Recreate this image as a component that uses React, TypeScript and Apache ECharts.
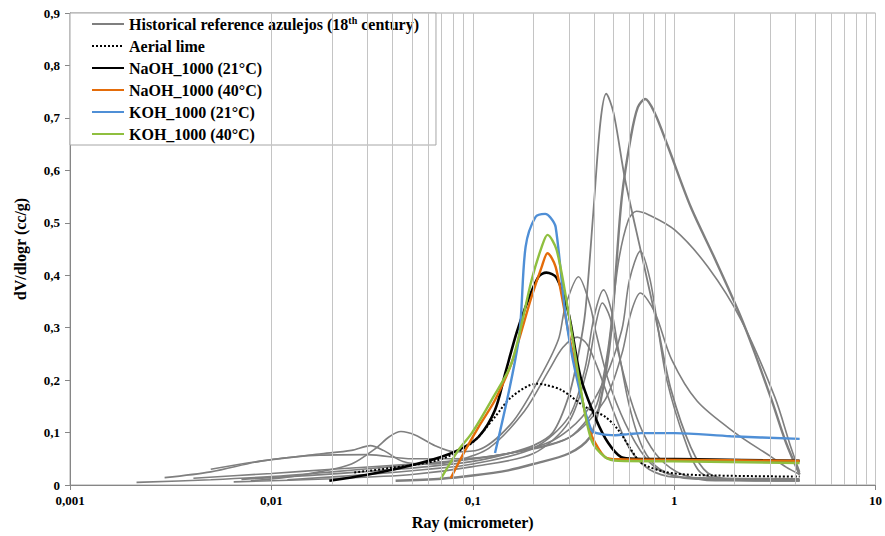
import React, { useEffect, useRef } from "react";
import * as echarts from "echarts";

const FONT = "'Liberation Serif', 'Times New Roman', serif";
const GRAY_NAME = "Historical reference azulejos (18th century)";
const LIME_NAME = "Aerial lime";
const NAOH21 = "NaOH_1000 (21°C)";
const NAOH40 = "NaOH_1000 (40°C)";
const KOH21 = "KOH_1000 (21°C)";
const KOH40 = "KOH_1000 (40°C)";

const xTickLabels = ["0,001", "0,01", "0,1", "1", "10"];
const yTickLabels = ["0", "0,1", "0,2", "0,3", "0,4", "0,5", "0,6", "0,7", "0,8", "0,9"];

// Historical reference azulejos (grey curves) [ray, dV/dlogr]
const gray1 = [[0.0071,0.011],[0.015,0.018],[0.03,0.026],[0.06,0.035],[0.1,0.045],[0.15,0.06],[0.2,0.075],[0.25,0.1],[0.3,0.17],[0.335,0.25],[0.362,0.33],[0.397,0.52],[0.43,0.69],[0.46,0.746],[0.5,0.71],[0.571,0.582],[0.687,0.442],[0.834,0.296],[0.966,0.181],[1.21,0.072],[1.47,0.023],[2,0.01],[4.2,0.008]];
const gray2 = [[0.0414,0.008],[0.07,0.012],[0.1,0.018],[0.15,0.028],[0.2,0.04],[0.3,0.06],[0.38,0.09],[0.42,0.14],[0.46,0.22],[0.488,0.296],[0.51,0.391],[0.55,0.549],[0.61,0.664],[0.66,0.72],[0.718,0.736],[0.8,0.71],[0.933,0.645],[1.21,0.53],[1.6,0.43],[2.2,0.31],[3.0,0.17],[3.6,0.08],[4.2,0.02]];
const gray3 = [[0.0041,0.013],[0.01,0.022],[0.02,0.03],[0.05,0.04],[0.1,0.05],[0.2,0.07],[0.3,0.09],[0.38,0.13],[0.42,0.162],[0.471,0.263],[0.528,0.423],[0.592,0.505],[0.649,0.522],[0.75,0.515],[1.01,0.486],[1.47,0.416],[2.15,0.315],[3.16,0.168],[3.8,0.072],[4.2,0.025]];
const gray4 = [[0.00214,0.005],[0.005,0.01],[0.01,0.016],[0.02,0.025],[0.04,0.035],[0.08,0.045],[0.15,0.06],[0.25,0.085],[0.35,0.13],[0.45,0.2],[0.55,0.296],[0.6,0.391],[0.68,0.446],[0.76,0.391],[0.834,0.296],[0.92,0.2],[1.13,0.086],[1.36,0.023],[2,0.01],[4.2,0.01]];
const gray5 = [[0.005,0.03],[0.009,0.046],[0.0173,0.057],[0.03,0.058],[0.05,0.05],[0.08,0.05],[0.15,0.06],[0.3,0.09],[0.45,0.16],[0.55,0.25],[0.61,0.328],[0.68,0.366],[0.8,0.33],[0.97,0.24],[1.3,0.16],[2,0.1],[3,0.055],[3.6,0.034],[4.2,0.02]];
const gray6 = [[0.0079,0.008],[0.012,0.015],[0.0173,0.025],[0.025,0.04],[0.033,0.07],[0.0385,0.092],[0.044,0.102],[0.052,0.095],[0.065,0.075],[0.082,0.063],[0.107,0.067],[0.156,0.118],[0.212,0.2],[0.266,0.277],[0.288,0.34],[0.335,0.397],[0.384,0.34],[0.406,0.296],[0.471,0.2],[0.571,0.118],[0.718,0.053],[0.9,0.023],[1.5,0.01],[4.2,0.008]];
const gray7 = [[0.012,0.01],[0.03,0.02],[0.06,0.03],[0.1,0.04],[0.2,0.07],[0.3,0.13],[0.36,0.22],[0.4,0.32],[0.446,0.372],[0.49,0.33],[0.528,0.26],[0.6,0.15],[0.7,0.07],[0.85,0.03],[1.2,0.012],[4.2,0.01]];
const gray8 = [[0.0065,0.006],[0.02,0.012],[0.05,0.02],[0.1,0.035],[0.2,0.06],[0.3,0.12],[0.37,0.22],[0.41,0.31],[0.44,0.347],[0.48,0.32],[0.53,0.25],[0.6,0.17],[0.7,0.1],[0.85,0.05],[1.1,0.02],[1.6,0.008],[4.2,0.008]];
const gray9 = [[0.00295,0.014],[0.005,0.025],[0.009,0.046],[0.0173,0.059],[0.025,0.066],[0.031,0.075],[0.036,0.066],[0.045,0.045],[0.06,0.04],[0.08,0.045],[0.12,0.07],[0.18,0.14],[0.24,0.22],[0.28,0.262],[0.33,0.282],[0.37,0.268],[0.42,0.22],[0.5,0.14],[0.6,0.07],[0.75,0.03],[1,0.015],[4.2,0.012]];
const grayCurves = [gray1, gray2, gray3, gray4, gray5, gray6, gray7, gray8, gray9];
const grayWidths = [1.8, 2.4, 1.6, 1.6, 1.6, 1.6, 1.6, 1.6, 1.6];

const aerialLime = [[0.0258,0.024],[0.0384,0.032],[0.0679,0.048],[0.0989,0.08],[0.129,0.13],[0.156,0.168],[0.207,0.193],[0.229,0.191],[0.276,0.181],[0.362,0.149],[0.455,0.13],[0.528,0.105],[0.612,0.067],[0.687,0.042],[0.9,0.025],[1.31,0.019],[4.2,0.016]];
const naoh21 = [[0.0194,0.008],[0.0294,0.019],[0.043,0.032],[0.0627,0.048],[0.0853,0.067],[0.107,0.092],[0.129,0.143],[0.145,0.213],[0.165,0.29],[0.183,0.34],[0.212,0.397],[0.232,0.405],[0.261,0.395],[0.299,0.328],[0.343,0.206],[0.411,0.124],[0.471,0.08],[0.547,0.053],[0.641,0.05],[1.31,0.049],[4.2,0.046]];
const naoh40 = [[0.0777,0.013],[0.092,0.067],[0.107,0.111],[0.129,0.162],[0.156,0.233],[0.196,0.359],[0.22,0.416],[0.235,0.442],[0.258,0.416],[0.299,0.29],[0.335,0.2],[0.375,0.111],[0.406,0.08],[0.455,0.053],[0.528,0.049],[1,0.048],[4.2,0.046]];
const koh21 = [[0.129,0.061],[0.169,0.277],[0.183,0.454],[0.205,0.511],[0.229,0.517],[0.243,0.51],[0.258,0.492],[0.288,0.328],[0.324,0.214],[0.388,0.105],[0.436,0.097],[0.511,0.095],[0.592,0.097],[0.687,0.099],[1.01,0.099],[1.91,0.093],[4.2,0.088]];
const koh40 = [[0.0692,0.011],[0.085,0.067],[0.0989,0.099],[0.124,0.162],[0.156,0.233],[0.196,0.391],[0.22,0.454],[0.235,0.477],[0.261,0.448],[0.299,0.328],[0.338,0.2],[0.388,0.086],[0.455,0.053],[0.528,0.046],[1,0.045],[4.2,0.042]];

const minorGrid: number[] = [];
[0.001, 0.01, 0.1, 1].forEach((d) => {
  for (let k = 2; k <= 9; k++) minorGrid.push(Number((k * d).toPrecision(3)));
});

const fmtX = (v: number) => {
  const idx = Math.round(Math.log10(v)) + 3;
  return xTickLabels[idx] ?? String(v);
};
const fmtY = (v: number) => yTickLabels[Math.round(v * 10)] ?? String(v);

export default function App() {
  const ref = useRef<HTMLDivElement>(null);
  useEffect(() => {
    document.body.style.margin = "0";
    if (!ref.current) return;
    const chart = echarts.init(ref.current, undefined, { renderer: "svg" });
    const series: any[] = [
      {
        type: "line",
        name: "",
        data: [],
        silent: true,
        z: 1,
        markLine: {
          silent: true,
          animation: false,
          symbol: ["none", "none"],
          label: { show: false },
          lineStyle: { color: "#c4c4c4", width: 1, type: "solid" },
          data: minorGrid.map((v) => ({ xAxis: v })),
        },
      },
    ];
    grayCurves.forEach((c, i) => {
      series.push({
        type: "line",
        name: GRAY_NAME,
        data: c,
        smooth: 0.3,
        showSymbol: false,
        symbol: "none",
        z: 2,
        color: "#7f7f7f",
        lineStyle: { color: "#7f7f7f", width: grayWidths[i] },
      });
    });
    const colored = [
      { name: LIME_NAME, data: aerialLime, color: "#000000", type: "dotted", width: 2 },
      { name: NAOH21, data: naoh21, color: "#000000", type: "solid", width: 2.6 },
      { name: NAOH40, data: naoh40, color: "#e46c0a", type: "solid", width: 2.4 },
      { name: KOH21, data: koh21, color: "#4f8fd6", type: "solid", width: 2.4 },
      { name: KOH40, data: koh40, color: "#8fbf3f", type: "solid", width: 2.4 },
    ];
    colored.forEach((s) => {
      series.push({
        type: "line",
        name: s.name,
        data: s.data,
        smooth: 0.3,
        showSymbol: false,
        symbol: "none",
        z: 3,
        color: s.color,
        lineStyle: { color: s.color, width: s.width, type: s.type },
      });
    });

    chart.setOption({
      animation: false,
      grid: {
        left: 70,
        right: 9,
        top: 13,
        bottom: 51,
        show: true,
        borderColor: "#a6a6a6",
        borderWidth: 1,
      },
      legend: {
        orient: "vertical",
        left: 70,
        top: 13,
        padding: [2, 17, 2, 21],
        itemWidth: 32,
        itemHeight: 14,
        itemGap: 4,
        backgroundColor: "#ffffff",
        borderColor: "#a6a6a6",
        borderWidth: 1,
        borderRadius: 0,
        itemStyle: { opacity: 0 },
        data: [GRAY_NAME, LIME_NAME, NAOH21, NAOH40, KOH21, KOH40],
        formatter: (name: string) =>
          name === GRAY_NAME ? "Historical reference azulejos (18{sup|th} century)" : name,
        textStyle: {
          fontFamily: FONT,
          fontWeight: "bold",
          fontSize: 16,
          lineHeight: 18,
          color: "#000",
          rich: {
            sup: {
              fontFamily: FONT,
              fontWeight: "bold",
              fontSize: 10,
              lineHeight: 18,
              color: "#000",
              verticalAlign: "top",
              padding: [0, 0, 6, 0],
            },
          },
        },
      },
      xAxis: {
        type: "log",
        logBase: 10,
        min: 0.001,
        max: 10,
        name: "Ray (micrometer)",
        nameLocation: "middle",
        nameGap: 29,
        nameTextStyle: { fontFamily: FONT, fontWeight: "bold", fontSize: 16, color: "#000" },
        axisLine: { show: true, lineStyle: { color: "#868686", width: 1 } },
        axisTick: { show: true, length: 5, lineStyle: { color: "#868686" } },
        axisLabel: {
          formatter: fmtX,
          fontFamily: FONT,
          fontWeight: "bold",
          fontSize: 13,
          color: "#000",
          margin: 9,
        },
        splitLine: { show: true, lineStyle: { color: "#c4c4c4", width: 1 } },
      },
      yAxis: {
        type: "value",
        min: 0,
        max: 0.9,
        interval: 0.1,
        name: "dV/dlogr (cc/g)",
        nameLocation: "middle",
        nameRotate: 90,
        nameGap: 42,
        nameTextStyle: { fontFamily: FONT, fontWeight: "bold", fontSize: 16, color: "#000" },
        axisLine: { show: true, lineStyle: { color: "#868686", width: 1 } },
        axisTick: { show: true, length: 5, lineStyle: { color: "#868686" } },
        axisLabel: {
          formatter: fmtY,
          fontFamily: FONT,
          fontWeight: "bold",
          fontSize: 13,
          color: "#000",
          margin: 10,
        },
        splitLine: { show: false },
      },
      series,
    });
    return () => chart.dispose();
  }, []);
  return <div ref={ref} style={{ width: 885, height: 536 }} />;
}
